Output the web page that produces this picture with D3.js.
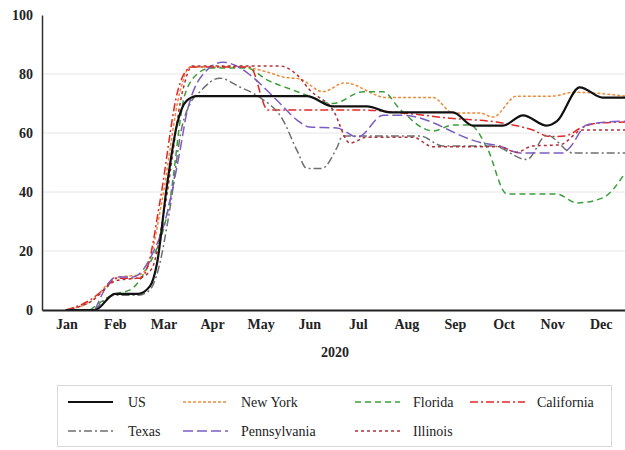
<!DOCTYPE html>
<html lang="en">
<head>
  <meta charset="UTF-8">
  <title>2020 index by state</title>
  <script src="https://cdn.jsdelivr.net/npm/d3@7"></script>
  <style>
    body { margin: 0; background: #fff; }
    svg text { font-family: "Liberation Serif", "DejaVu Serif", serif; fill: #222; }
    .tick text { font-size: 14px; font-weight: bold; }
    .legend text { font-size: 14px; }
    .grid line { stroke: #e6e6e6; stroke-width: 1px; }
  </style>
</head>
<body>
<div class="chart"></div>
<script>
  // months as category labels, points are [month position, value]
  const months = ['Jan','Feb','Mar','Apr','May','Jun','Jul','Aug','Sep','Oct','Nov','Dec'];
  const yTicks = [0, 20, 40, 60, 80, 100];

  const us = [[0.49,0],[1.09,0],[1.5,5.5],[1.98,5.5],[2.22,8],[2.37,16],[2.57,42],[2.78,63],[2.98,71],[3.19,72.5],
    [5.45,72.5],[5.99,69],[6.69,69],[7.16,67],[8.46,67],[8.87,62.5],[9.49,62.5],[9.9,66],[10.39,62.5],[10.6,64],
    [11.07,75.5],[11.54,72],[12,72]];
  const newYork = [[0.49,0],[0.99,2.7],[1.54,11],[2.02,12],[2.22,17],[2.47,37],[2.84,74],[3.05,82.4],[4.07,82.4],
    [4.63,80.7],[4.96,79],[5.31,78.3],[5.78,74],[6.23,77],[7.1,72],[8.05,72],[8.46,66.8],[9.01,66.8],[9.28,65.4],
    [9.77,72.5],[10.51,72.5],[10.93,73.8],[12,72.5]];
  const florida = [[0.99,0],[1.5,5.4],[1.81,6.8],[2.12,13],[2.63,37],[2.94,73],[3.25,80.7],[3.46,82],[4.22,82],
    [4.63,78],[5.16,74.6],[5.5,72.5],[5.99,70],[6.61,74],[7.02,74],[7.37,68],[8.05,60.7],[8.46,62.7],[8.81,62.7],
    [9.16,55],[9.57,39.3],[10.6,39.3],[11.01,36.3],[11.54,38],[12,46.4]];
  const california = [[0.49,0],[0.99,3.4],[1.26,6.8],[1.56,10.8],[2.02,10.8],[2.18,15],[2.43,37],[2.8,74.6],
    [2.96,81],[3.09,82.4],[4.28,82.4],[4.65,67.8],[6.54,67.8],[7.43,66.8],[8.4,65],[9.36,63.7],[10.1,61],
    [10.45,58.8],[10.76,59],[11.13,62],[11.48,63.4],[12,63.7]];
  const texas = [[1.09,0],[1.5,5],[1.98,5],[2.22,6.8],[2.39,13.5],[2.63,34],[2.88,62],[3.05,70],[3.25,74],
    [3.66,78.6],[4.07,75.6],[4.49,72],[4.96,64.4],[5.25,54],[5.45,48],[5.76,48],[6.07,55],[6.19,59],[7.78,59],
    [8.25,55.6],[9.28,55.6],[9.98,51],[10.39,59.3],[10.93,53.2],[12,53.2]];
  const pennsylvania = [[1.09,0],[1.54,11.2],[1.87,11.2],[2.28,19.3],[2.53,30],[2.84,54],[2.98,66.8],[3.4,81.4],
    [3.72,84],[3.97,83],[4.28,79.7],[4.84,71],[5.25,64.4],[5.51,62],[6.07,61.7],[6.5,58.6],[7.02,66],[7.43,66],
    [9.07,56.6],[9.42,55.6],[9.84,53.2],[10.72,53.2],[10.86,55],[11.21,62.7],[11.63,63.7],[12,64]];
  const illinois = [[0.49,0],[0.99,2.7],[1.54,10],[2.02,11],[2.26,14],[2.53,35],[2.9,74.6],[3.09,82.7],[4.9,82.7],
    [5.25,79.7],[5.51,74.6],[5.99,67.8],[6.34,56.6],[6.69,58.6],[7.63,58.6],[8.05,55.3],[9.42,55.3],[9.77,53.5],
    [10.1,55.6],[10.66,56],[11.13,61],[12,61]];

  const series = [
    {name: 'US', values: us, color: '#111', width: 2.2, dash: null},
    {name: 'New York', values: newYork, color: '#ee8a3a', width: 1.5, dash: '3,2'},
    {name: 'Florida', values: florida, color: '#3a9e3a', width: 1.5, dash: '6,4'},
    {name: 'California', values: california, color: '#e02828', width: 1.5, dash: '8,3,2,3'},
    {name: 'Texas', values: texas, color: '#6f6f6f', width: 1.5, dash: '8,3,2,3'},
    {name: 'Pennsylvania', values: pennsylvania, color: '#7b5cc4', width: 1.5, dash: '10,4'},
    {name: 'Illinois', values: illinois, color: '#b0303a', width: 1.5, dash: '3,3'}
  ];

  const W = 625, H = 450;
  const margin = {top: 15, right: 0, bottom: 140, left: 42};
  const svg = d3.select('.chart').append('svg').attr('width', W).attr('height', H);

  const x = d3.scaleLinear().domain([0, 12]).range([margin.left, W - margin.right]);
  const y = d3.scaleLinear().domain([0, 100]).range([H - margin.bottom, margin.top]);

  // gridlines
  svg.append('g').attr('class', 'grid')
    .selectAll('line').data(yTicks.filter(d => d > 0 && d < 100)).enter().append('line')
    .attr('x1', x(0)).attr('x2', x(12))
    .attr('y1', d => y(d)).attr('y2', d => y(d));

  svg.append('clipPath').attr('id', 'plot')
    .append('rect').attr('x', x(0)).attr('y', 0).attr('width', x(12) - x(0)).attr('height', y(0) + 1);

  const line = d3.line().x(d => x(d[0])).y(d => y(d[1])).curve(d3.curveMonotoneX);

  // draw US last so it sits on top
  const order = series.slice(1).concat(series[0]);
  svg.append('g').attr('clip-path', 'url(#plot)')
    .selectAll('path').data(order).enter().append('path')
    .attr('fill', 'none')
    .attr('stroke', d => d.color)
    .attr('stroke-width', d => d.width)
    .attr('stroke-dasharray', d => d.dash)
    .attr('d', d => line(d.values));

  // y axis
  const yAxis = svg.append('g').attr('transform', `translate(${x(0)},0)`)
    .call(d3.axisLeft(y).tickValues(yTicks).tickSize(0).tickPadding(9));
  yAxis.attr('font-family', null).attr('font-size', null);
  yAxis.select('.domain').attr('stroke', '#333').attr('stroke-width', 1.5);

  // x axis with month labels in the middle of each month
  const xAxis = svg.append('g').attr('transform', `translate(0,${y(0)})`)
    .call(d3.axisBottom(x).tickValues(months.map((m, i) => i + 0.5))
      .tickFormat((d, i) => months[i]).tickSize(0).tickPadding(9));
  xAxis.attr('font-family', null).attr('font-size', null);
  xAxis.select('.domain').attr('stroke', '#222').attr('stroke-width', 2);

  svg.append('text').attr('x', 335).attr('y', 357)
    .attr('text-anchor', 'middle')
    .style('font-size', '14px').style('font-weight', 'bold')
    .text('2020');

  // legend
  const legend = svg.append('g').attr('class', 'legend');
  legend.append('rect').attr('x', 57.5).attr('y', 385.5).attr('width', 554).attr('height', 61)
    .attr('fill', '#fff').attr('stroke', '#d9d9d9');
  const colX = [68, 183, 355, 470];
  const rowY = [402, 431];
  const item = legend.selectAll('g.item').data(series).enter().append('g')
    .attr('class', 'item')
    .attr('transform', (d, i) => `translate(${colX[i % 4]},${rowY[Math.floor(i / 4)]})`);
  item.append('line').attr('x1', 0).attr('x2', (d, i) => i % 4 === 3 ? 55 : 45)
    .attr('stroke', d => d.color).attr('stroke-width', d => d.width)
    .attr('stroke-dasharray', d => d.dash);
  item.append('text').attr('x', (d, i) => i % 4 === 3 ? 67 : (i % 4 === 0 ? 60 : 58))
    .attr('dy', '0.35em').text(d => d.name);
</script>
</body>
</html>
